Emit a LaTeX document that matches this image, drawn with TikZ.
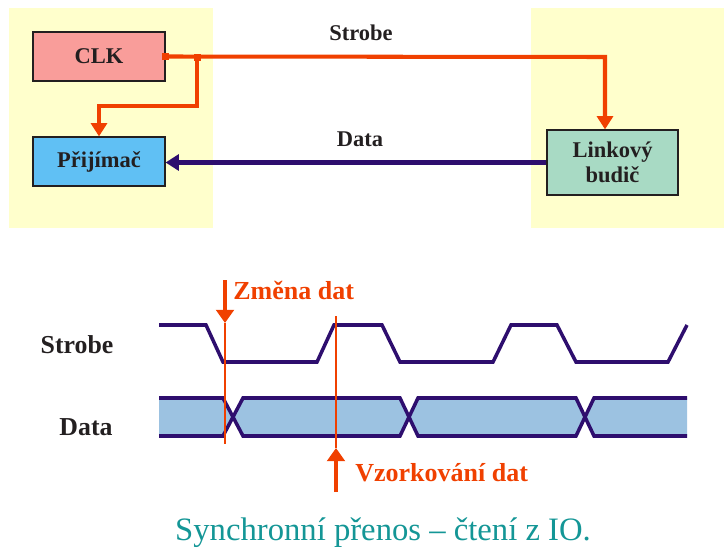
\documentclass[tikz,border=0pt]{standalone}
\usepackage{fontspec}
\setmainfont{Liberation Serif}
\usepackage{xcolor}
\usetikzlibrary{arrows.meta,calc,positioning}

\definecolor{bgyellow}{RGB}{255,255,204}
\definecolor{clkred}{RGB}{249,157,154}
\definecolor{rxblue}{RGB}{96,192,244}
\definecolor{drvgreen}{RGB}{168,218,196}
\definecolor{sigorange}{RGB}{240,64,0}
\definecolor{sigpurple}{RGB}{46,14,110}
\definecolor{busblue}{RGB}{156,194,225}
\definecolor{captal}{RGB}{20,150,150}
\definecolor{txtdark}{RGB}{35,31,32}

\tikzset{
	block/.style={draw=txtdark,line width=0.7pt,inner sep=0pt,text=txtdark,align=center,
		font=\fontsize{12.8}{14}\selectfont\bfseries},
	strobeline/.style={draw=sigorange,line width=2.3pt},
	dataline/.style={draw=sigpurple,line width=2.3pt},
	wave/.style={draw=sigpurple,line width=2pt,line join=miter},
	marker/.style={draw=sigorange,line width=1.1pt},
	markerarrow/.style={draw=sigorange,fill=sigorange,line width=2.6pt,-{Triangle[length=7.5pt,width=10pt]}},
	toplabel/.style={text=txtdark,font=\fontsize{12.8}{14}\selectfont\bfseries},
	timelabel/.style={text=txtdark,font=\fontsize{14.7}{16}\selectfont\bfseries},
	redlabel/.style={text=sigorange,anchor=west,inner sep=0pt,font=\fontsize{14.8}{16}\selectfont\bfseries}
}

\begin{document}
\begin{tikzpicture}[x=0.02cm,y=-0.02cm]
	\useasboundingbox (0,0) rectangle (724,551);
	% backgrounds
	\fill[bgyellow] (9,8) rectangle (213,228);
	\fill[bgyellow] (531,8) rectangle (724,228);
	% blocks
	\node[block,fill=clkred,minimum width=2.64cm,minimum height=0.98cm] (clk) at (99,56.5) {CLK};
	\node[block,fill=rxblue,minimum width=2.64cm,minimum height=0.98cm] (prijimac) at (99,161.5) {Přijímač};
	\node[block,fill=drvgreen,minimum width=2.62cm,minimum height=1.3cm] (budic) at (612.5,162.5) {Linkový\\budič};
	% strobe
	\coordinate (tap) at (197,57);
	\coordinate (bend) at (197,106);
	\coordinate (corner) at (605,57);
	\draw[strobeline,-{Triangle[length=7.5pt,width=9pt]}] (clk.east) -- (corner) -- (corner |- budic.north);
	\draw[strobeline,-{Triangle[length=7.5pt,width=9pt]}] (tap) -- (bend) -| (prijimac.north);
	\fill[sigorange] ($(clk.east)+(-3.5,-3.5)$) rectangle ++(7,7);
	\fill[sigorange] ($(tap)+(-3.5,-3.5)$) rectangle ++(7,7);
	\node[toplabel] (strobetop) at (361,33) {Strobe};
	% data
	\draw[dataline,-{Triangle[length=7.5pt,width=9pt]}] (budic.west) -- (budic.west -| prijimac.east);
	\node[toplabel] (datatop) at (360,139) {Data};
	% timing
	\node[timelabel] (strobelbl) at (77,345) {Strobe};
	\node[timelabel] (datalbl) at (86,427) {Data};
	\draw[wave] (159,325) -- (206,325) -- (223,362) -- (317,362) -- (334,325) -- (382,325)
		-- (400,362) -- (493,362) -- (511,325) -- (557,325) -- (576,362) -- (668,362) -- (687,325);
	\fill[busblue] (159,398) -- (223,398) -- (233,417) -- (243,398) -- (400,398) -- (409,417)
		-- (418,398) -- (576,398) -- (585,417) -- (594,398) -- (687,398) -- (687,436) -- (594,436)
		-- (585,417) -- (576,436) -- (418,436) -- (409,417) -- (400,436) -- (243,436) -- (233,417)
		-- (223,436) -- (159,436) -- cycle;
	\draw[wave] (159,398) -- (223,398) -- (243,436) -- (400,436) -- (418,398) -- (576,398) -- (594,436) -- (687,436);
	\draw[wave] (159,436) -- (223,436) -- (243,398) -- (400,398) -- (418,436) -- (576,436) -- (594,398) -- (687,398);
	% markers
	\coordinate (chgtop) at (225,280);
	\coordinate (chghead) at (225,323);
	\coordinate (chgend) at (225,444);
	\draw[markerarrow] (chgtop) -- (chghead);
	\draw[marker] (chghead) -- (chgend);
	\node[redlabel] (chglbl) at (233,290) {Změna dat};
	\coordinate (smptop) at (336,316);
	\coordinate (smphead) at (336,448);
	\coordinate (smpend) at (336,492);
	\draw[marker] (smptop) -- (smphead);
	\draw[markerarrow] (smpend) -- (smphead);
	\node[redlabel] (smplbl) at (355,473) {Vzorkování dat};
	% caption
	\node[text=captal,font=\fontsize{18.6}{20}\selectfont] (caption) at (383,533) {Synchronní přenos – čtení z IO.};
\end{tikzpicture}
\end{document}
